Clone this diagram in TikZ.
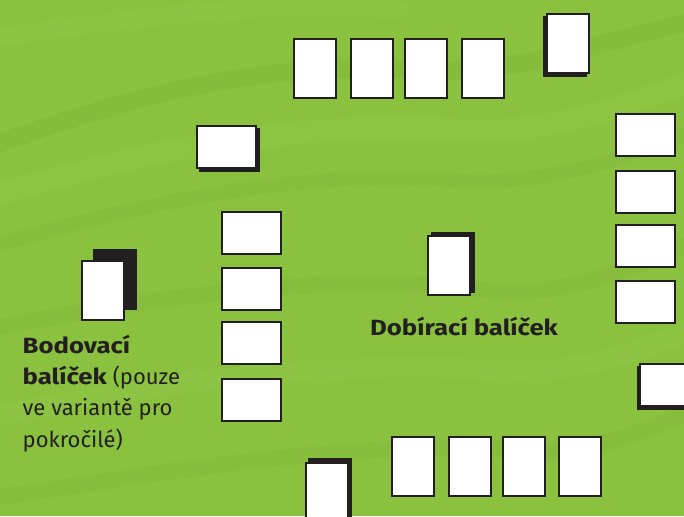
\documentclass[tikz,border=0pt]{standalone}
\usepackage{fontspec}
\setmainfont{Fira Sans}[BoldFeatures={FakeStretch=1.17}]
\usetikzlibrary{shadows}
\definecolor{ink}{HTML}{231F20}
\definecolor{bg}{HTML}{8AC13F}
\definecolor{bgdark}{HTML}{74AB32}
\definecolor{bglight}{HTML}{9CCF50}
\begin{document}
\begin{tikzpicture}[x=1pt,y=-1pt,
  card/.style={draw=ink, fill=white, line width=2pt, inner sep=0pt, rectangle},
  portrait/.style={card, minimum width=42pt, minimum height=59pt},
  landscape/.style={card, minimum width=59pt, minimum height=42pt},
  shadowed/.style 2 args={drop shadow={shadow xshift=#1, shadow yshift=#2, opacity=1, fill=ink, draw=ink, line width=2pt}},
  txt/.style={text=ink, inner sep=0pt, anchor=base west, font=\fontsize{22}{30}\selectfont}]
\useasboundingbox (0,0) rectangle (684,516);
\clip (0,0) rectangle (684,516);
\fill[bg] (0,0) rectangle (684,516);
% background texture
\begin{scope}[line cap=round]
\draw[bgdark, opacity=.22, line width=18pt] (-20,150) .. controls (120,100) and (250,60) .. (420,70) .. controls (520,76) and (600,40) .. (700,20);
\draw[bgdark, opacity=.16, line width=14pt] (-20,250) .. controls (150,200) and (300,170) .. (450,180) .. controls (560,188) and (640,150) .. (700,130);
\draw[bglight, opacity=.22, line width=22pt] (-20,200) .. controls (140,150) and (300,120) .. (460,130) .. controls (560,136) and (630,100) .. (700,80);
\draw[bgdark, opacity=.15, line width=16pt] (-20,330) .. controls (150,300) and (320,270) .. (480,290) .. controls (580,300) and (640,260) .. (700,240);
\draw[bglight, opacity=.2, line width=20pt] (-20,420) .. controls (160,380) and (330,360) .. (500,370) .. controls (600,376) and (650,340) .. (700,330);
\draw[bgdark, opacity=.16, line width=16pt] (-20,500) .. controls (180,470) and (350,440) .. (520,450) .. controls (610,455) and (660,420) .. (700,410);
\draw[bglight, opacity=.2, line width=18pt] (-20,40) .. controls (120,20) and (250,0) .. (400,10);
\end{scope}
% top row
\node[portrait] (t1) at (315.3,68.7) {};
\node[portrait] (t2) at (372.2,68.7) {};
\node[portrait] (t3) at (425.8,68.7) {};
\node[portrait] (t4) at (483,68.7) {};
\node[portrait, shadowed={-3pt}{-3pt}] (tr) at (568.3,44) {};
% upper-left landscape card
\node[landscape, shadowed={3pt}{-3pt}] (ul) at (226.7,147.2) {};
% left column
\node[landscape] (l1) at (251,232.7) {};
\node[landscape] (l2) at (251,289.2) {};
\node[landscape] (l3) at (251,343) {};
\node[landscape] (l4) at (251,399.7) {};
% scoring deck
\node[portrait, shadowed={11.5pt}{10.8pt}] (score) at (103,290.7) {};
% draw deck
\node[portrait, shadowed={4pt}{3.2pt}] (deck) at (449.2,265.3) {};
% right column
\node[landscape] (r1) at (645,135) {};
\node[landscape] (r2) at (645,191.7) {};
\node[landscape] (r3) at (645,245.7) {};
\node[landscape] (r4) at (645,302.3) {};
\node[landscape, shadowed={-2pt}{-3pt}] (re) at (669.5,385) {};
% bottom row
\node[portrait] (b1) at (413,466.7) {};
\node[portrait] (b2) at (469.5,466.7) {};
\node[portrait] (b3) at (523.5,466.7) {};
\node[portrait] (b4) at (580,466.7) {};
\node[portrait, shadowed={3pt}{3.3pt}] (bl) at (327,492.2) {};
% labels
\node[txt] (drawlbl) at (370,335) {\bfseries Dobírací balíček};
\node[txt] (s1) at (22.5,353.3) {\bfseries Bodovací};
\node[txt] (s2) at (22.5,384.6) {\textbf{balíček} (pouze};
\node[txt] (s3) at (22.5,415.9) {ve variantě pro};
\node[txt] (s4) at (22.5,447.2) {pokročilé)};
\end{tikzpicture}
\end{document}
